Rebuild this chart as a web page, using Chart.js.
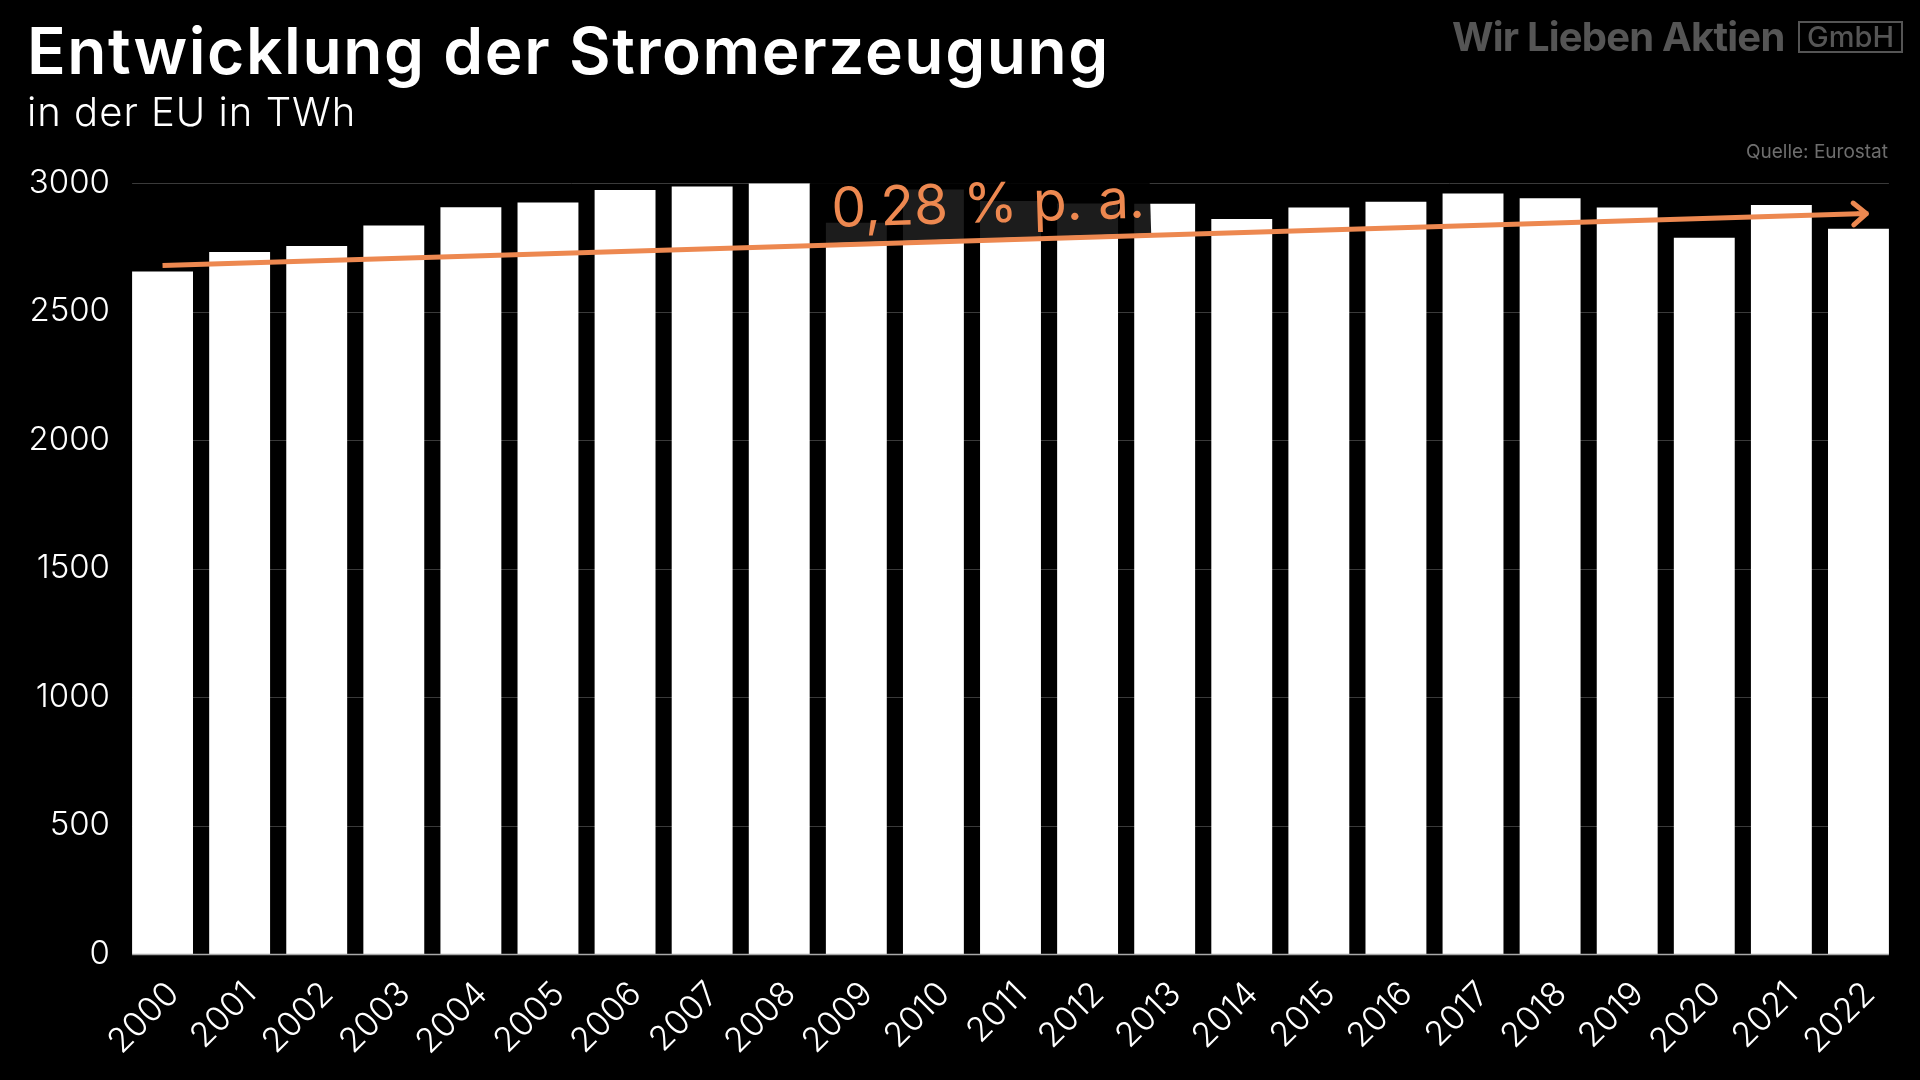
<!DOCTYPE html>
<html>
<head>
<meta charset="utf-8">
<script src="https://cdn.jsdelivr.net/npm/chart.js@4"></script>
<style>
  html, body { margin: 0; padding: 0; background: #000; }
  #wrap { position: relative; width: 1920px; height: 1080px; background: #000; overflow: hidden; }
  #chart { position: absolute; left: 0; top: 0; }
  .txt { position: absolute; white-space: nowrap; font-family: Inter, "Open Sans", sans-serif; }
  #title { left: 27px; top: 12px; font-size: 64px; font-weight: 600; color: #fff; letter-spacing: 1.6px; }
  #subtitle { left: 27px; top: 87px; font-size: 40px; font-weight: 300; color: #fff; letter-spacing: 1px; }
  #logo { left: 1452px; top: 12px; font-size: 40px; font-weight: 700; color: #555; letter-spacing: -0.8px; }
  #gmbh { left: 1798px; top: 21px; width: 101px; height: 28px; border: 2px solid #555; color: #555;
          font-size: 29px; font-weight: 500; line-height: 28px; text-align: center; }
  #source { right: 32px; top: 140px; font-size: 19px; font-weight: 400; color: #6e6e6e; }
</style>
</head>
<body>
<div id="wrap">
  <canvas id="chart" width="1920" height="1080"></canvas>
  <div class="txt" id="title">Entwicklung der Stromerzeugung</div>
  <div class="txt" id="subtitle">in der EU in TWh</div>
  <div class="txt" id="logo">Wir Lieben Aktien</div>
  <div class="txt" id="gmbh">GmbH</div>
  <div class="txt" id="source">Quelle: Eurostat</div>
</div>
<script>
// Stromerzeugung EU, TWh
const years = ['2000', '2001', '2002', '2003', '2004', '2005', '2006', '2007', '2008', '2009', '2010',
               '2011', '2012', '2013', '2014', '2015', '2016', '2017', '2018', '2019', '2020', '2021', '2022'];
const production = [2656, 2732, 2755, 2835, 2906, 2924, 2973, 2986, 2998, 2845, 2975,
                    2930, 2920, 2919, 2860, 2905, 2927, 2959, 2941, 2905, 2787, 2914, 2822];
// Trendlinie: nur Anfang und Ende
const trend = [2679, null, null, null, null, null, null, null, null, null, null,
               null, null, null, null, null, null, null, null, null, null, null, 2880];
const trendLabel = '0,28 % p. a.';
const yTicks = [0, 500, 1000, 1500, 2000, 2500, 3000];

const orange = '#ED8850';
const font = 'Inter, "Open Sans", sans-serif';

// Gitterlinien nur zwischen erstem und letztem Balken
const gridPlugin = {
    id: 'gridLines',
    beforeDatasetsDraw(chart) {
        const ctx = chart.ctx;
        const y = chart.scales.y;
        const bars = chart.getDatasetMeta(0).data;
        const x0 = bars[0].x - bars[0].width / 2;
        const x1 = bars[bars.length - 1].x + bars[bars.length - 1].width / 2;
        ctx.save();
        ctx.lineWidth = 1;
        yTicks.forEach(v => {
            if (v === 0) return;
            const py = Math.round(y.getPixelForValue(v)) + 0.5;
            ctx.strokeStyle = '#3a3a3a';
            ctx.beginPath();
            ctx.moveTo(x0, py);
            ctx.lineTo(x1, py);
            ctx.stroke();
        });
        ctx.restore();
    },
    afterDatasetDraw(chart, args) {
        const ctx = chart.ctx;
        if (args.meta.type === 'bar') {
            // Nulllinie
            const y = chart.scales.y;
            const bars = args.meta.data;
            const x0 = bars[0].x - bars[0].width / 2;
            const x1 = bars[bars.length - 1].x + bars[bars.length - 1].width / 2;
            const py = Math.round(y.getPixelForValue(0)) + 0.5;
            ctx.save();
            ctx.strokeStyle = '#a8a8a8';
            ctx.lineWidth = 1.5;
            ctx.beginPath();
            ctx.moveTo(x0, py);
            ctx.lineTo(x1, py);
            ctx.stroke();

            // dunkler Kasten hinter der Beschriftung
            const tm = chart.getDatasetMeta(1).data;
            const p0 = tm[0], p1 = tm[tm.length - 1];
            const ang = Math.atan2(p1.y - p0.y, p1.x - p0.x);
            const len = Math.hypot(p1.x - p0.x, p1.y - p0.y);
            const t = 0.383;
            ctx.translate(p0.x + (p1.x - p0.x) * t, p0.y + (p1.y - p0.y) * t);
            ctx.rotate(ang);
            ctx.fillStyle = 'rgba(0,0,0,0.89)';
            ctx.fillRect(0, -85, len * 0.2, 83);
            ctx.restore();
        }
    },
    afterDatasetsDraw(chart) {
        const ctx = chart.ctx;
        const tm = chart.getDatasetMeta(1).data;
        const p0 = tm[0], p1 = tm[tm.length - 1];
        const ang = Math.atan2(p1.y - p0.y, p1.x - p0.x);
        // Pfeilspitze
        const tipX = p1.x + Math.cos(ang) * 8;
        const tipY = p1.y + Math.sin(ang) * 8;
        ctx.save();
        ctx.strokeStyle = orange;
        ctx.lineWidth = 5;
        ctx.lineCap = 'round';
        ctx.lineJoin = 'round';
        ctx.beginPath();
        ctx.moveTo(p1.x, p1.y);
        ctx.lineTo(tipX, tipY);
        const a = 0.7, l = 17;
        ctx.moveTo(tipX - Math.cos(ang - a) * l, tipY - Math.sin(ang - a) * l);
        ctx.lineTo(tipX, tipY);
        ctx.lineTo(tipX - Math.cos(ang + a) * l, tipY - Math.sin(ang + a) * l);
        ctx.stroke();
        ctx.restore();

        // Beschriftung der Trendlinie
        const t = 0.395;
        ctx.save();
        ctx.translate(p0.x + (p1.x - p0.x) * t, p0.y + (p1.y - p0.y) * t);
        ctx.rotate(ang);
        ctx.fillStyle = orange;
        ctx.font = '400 55px ' + font;
        ctx.textBaseline = 'alphabetic';
        ctx.fillText(trendLabel, 0, -18);
        ctx.restore();
    }
};

const ctx = document.getElementById('chart').getContext('2d');
new Chart(ctx, {
    data: {
        labels: years,
        datasets: [{
            type: 'bar',
            data: production,
            backgroundColor: '#ffffff',
            borderWidth: 0,
            barPercentage: 0.79,
            categoryPercentage: 1.0,
            order: 1
        }, {
            type: 'line',
            data: trend,
            borderColor: orange,
            borderWidth: 5,
            pointRadius: 0,
            spanGaps: true,
            fill: false,
            order: 0
        }]
    },
    options: {
        responsive: false,
        animation: false,
        layout: { padding: { top: 183, left: 0, right: 23, bottom: 0 } },
        plugins: {
            legend: { display: false },
            tooltip: { enabled: false }
        },
        scales: {
            x: {
                offset: true,
                grid: { display: false },
                border: { display: false },
                ticks: {
                    color: '#ffffff',
                    font: { family: font, size: 34, weight: 300 },
                    minRotation: 45,
                    maxRotation: 45,
                    padding: 12,
                    labelOffset: 11
                },
                afterFit(scale) { scale.height = 126; }
            },
            y: {
                min: 0,
                max: 3000,
                grid: { display: false },
                border: { display: false },
                ticks: {
                    stepSize: 500,
                    color: '#ffffff',
                    font: { family: font, size: 33, weight: 300 },
                    padding: 6,
                    callback: v => String(v)
                },
                afterFit(scale) { scale.width = 124; }
            }
        }
    },
    plugins: [gridPlugin]
});
</script>
</body>
</html>
